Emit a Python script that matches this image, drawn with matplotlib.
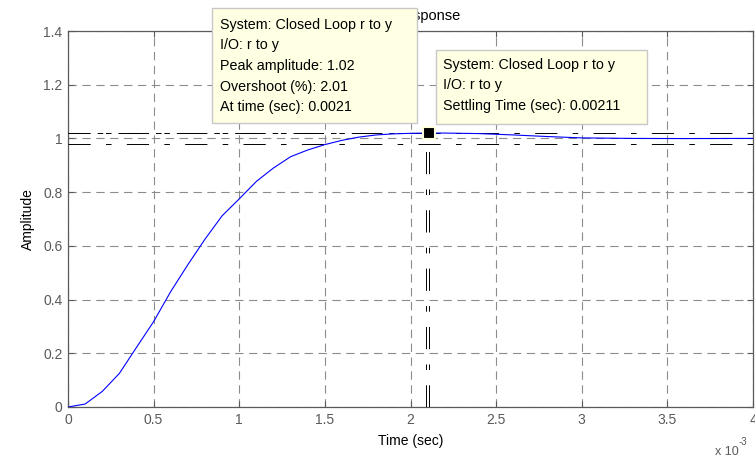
import matplotlib
matplotlib.use("Agg")
import matplotlib.pyplot as plt
from matplotlib.patches import Rectangle

plt.rcParams['font.family'] = ['Liberation Sans', 'DejaVu Sans']
plt.rcParams['lines.scale_dashes'] = False

# step response (time in ms)
time_ms = [0, 0.1, 0.2, 0.3, 0.4, 0.5, 0.6, 0.7, 0.8, 0.9, 1.0, 1.1, 1.2, 1.3,
           1.4, 1.5, 1.6, 1.7, 1.8, 1.9, 2.0, 2.1, 2.2, 2.4, 2.6, 2.8, 3.0,
           3.3, 3.6, 4.0]
amplitude = [0, 0.011, 0.058, 0.125, 0.222, 0.318, 0.43, 0.53, 0.625, 0.712,
             0.775, 0.84, 0.89, 0.932, 0.957, 0.977, 0.993, 1.005, 1.013,
             1.017, 1.019, 1.0201, 1.02, 1.018, 1.013, 1.007, 1.002, 1.0,
             0.9995, 1.0]

peak_amp = 1.0201
peak_time = 0.00209
settle_time = 0.00211
band = [1.02, 0.98]

xticks = [0, 0.5, 1, 1.5, 2, 2.5, 3, 3.5, 4]
yticks = [0, 0.2, 0.4, 0.6, 0.8, 1, 1.2, 1.4]

tip1 = ["System: Closed Loop r to y", "I/O: r to y", "Peak amplitude: 1.02",
        "Overshoot (%): 2.01", "At time (sec): 0.0021"]
tip2 = ["System: Closed Loop r to y", "I/O: r to y",
        "Settling Time (sec): 0.00211"]

W, H = 755, 462
fig = plt.figure(figsize=(W / 100, H / 100), dpi=100)
ax = fig.add_axes([68 / W, (H - 407) / H, 685 / W, 376 / H])

gray = '#5a5a5a'
dashdot = (0, (16, 11, 4, 11))

t = [v * 1e-3 for v in time_ms]
ax.plot(t, amplitude, color='#0000ff', lw=0.8, zorder=5)

# characteristic lines (peak + settling)
for y in band:
    ax.axhline(y, color='black', lw=0.7, ls=dashdot, zorder=4)
ax.plot([0, peak_time], [peak_amp, peak_amp], color='black', lw=0.7,
        ls=(6, (16, 11, 4, 11)), zorder=4)
for xv in [peak_time, settle_time]:
    ax.plot([xv, xv], [0, peak_amp], color='black', lw=0.7,
            ls=dashdot, zorder=4)
ax.plot([settle_time], [peak_amp], marker='s', ms=8, color='black',
        mec='#ffffe0', mew=1.5, zorder=6)

ax.set_xlim(0, 0.004)
ax.set_ylim(0, 1.4)
ax.set_xticks([v * 1e-3 for v in xticks])
ax.set_xticklabels([f"{v:g}" for v in xticks])
ax.set_yticks(yticks)
ax.set_yticklabels([f"{v:g}" for v in yticks])
ax.tick_params(direction='in', length=4, colors=gray, labelsize=10,
               top=True, right=True, pad=4)
for s in ax.spines.values():
    s.set_color(gray)
    s.set_linewidth(0.9)
ax.grid(True, color='#8c8c8c', ls=(0, (6, 4)), lw=0.8)

ax.set_xlabel("Time (sec)", fontsize=10, labelpad=5)
ax.set_ylabel("Amplitude", fontsize=10, labelpad=6)
ax.set_title("Step Response", fontsize=10.5, pad=8)

fig.text(715 / W, 1 - 452 / H, "x 10", fontsize=9, color=gray, va='center')
fig.text(739 / W, 1 - 442 / H, "-3", fontsize=7, color=gray, va='center')


def datatip(x0, y0, x1, y1, lines, tx, ty):
    fig.add_artist(Rectangle((x0 / W, 1 - y1 / H), (x1 - x0) / W,
                             (y1 - y0) / H, transform=fig.transFigure,
                             facecolor='#ffffe3', edgecolor='#c8c8c8',
                             lw=1, zorder=10))
    for i, s in enumerate(lines):
        fig.text(tx / W, 1 - (ty + i * 20.5) / H, s, fontsize=10.3,
                 va='center', ha='left', zorder=11)


datatip(212, 8, 417, 123, tip1, 220, 25)
datatip(436, 50, 647, 124, tip2, 443, 65)

fig.savefig("out.png", dpi=100)
